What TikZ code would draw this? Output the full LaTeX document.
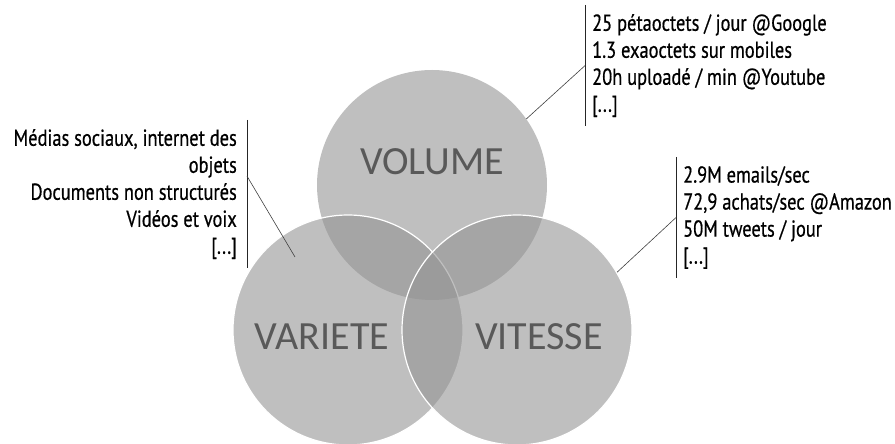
\documentclass[tikz,border=0pt]{standalone}
\usepackage{fontspec}
\setmainfont{Carlito}
\newfontfamily\condfont[FakeStretch=0.8, FakeBold=0.6]{PT Sans}
\usetikzlibrary{positioning}
\definecolor{venngray}{RGB}{147,147,147}
\definecolor{labelgray}{RGB}{89,89,89}
\tikzset{
  vcircle/.style={circle, minimum size=230pt, inner sep=0pt, fill=venngray, fill opacity=0.59},
  vlabel/.style={text=labelgray, font=\fontsize{40}{48}\selectfont},
  info/.style={font=\condfont\fontsize{23}{27}\selectfont, inner ysep=9pt},
  bar/.style={line width=0.9pt, black!85},
  pointer/.style={line width=0.6pt, black!75}
}
\begin{document}
\begin{tikzpicture}[x=1pt, y=1pt]
\useasboundingbox (0,0) rectangle (895,444);
% les trois cercles
\node[vcircle] (volume) at (432,259) {};
\node[vcircle, draw=white, line width=1.2pt] (variete) at (348,114) {};
\node[vcircle, draw=white, line width=1.2pt] (vitesse) at (517,114) {};
\node[vlabel] (volumetxt) at (432,282) {VOLUME};
\node[vlabel] (varietetxt) at (322,107) {VARIETE};
\node[vlabel] (vitessetxt) at (539,107) {VITESSE};
% les textes
\node[info, anchor=north west, align=left, inner xsep=7pt] (volinfo) at (585,439)
  {25 pétaoctets / jour @Google\\1.3 exaoctets sur mobiles\\20h uploadé / min @Youtube\\{[...]}};
\node[info, anchor=north east, align=right, inner xsep=10pt] (varinfo) at (247,324)
  {Médias sociaux, internet des\\objets\\Documents non structurés\\Vidéos et voix\\{[...]}};
\node[info, anchor=north west, align=left, inner xsep=7pt] (vitinfo) at (676,287)
  {2.9M emails/sec\\72,9 achats/sec @Amazon\\50M tweets / jour\\{[...]}};
\draw[bar] (volinfo.north west) -- (volinfo.south west);
\draw[bar] (varinfo.north east) -- (varinfo.south east);
\draw[bar] (vitinfo.north west) -- (vitinfo.south west);
% les liens
\coordinate (varpoint) at (295,187);
\draw[pointer] (volume.35) -- (volinfo.west);
\draw[pointer] (varpoint) -- ([yshift=18pt]varinfo.east);
\draw[pointer] (vitesse.30) -- (vitinfo.west);
\end{tikzpicture}
\end{document}
